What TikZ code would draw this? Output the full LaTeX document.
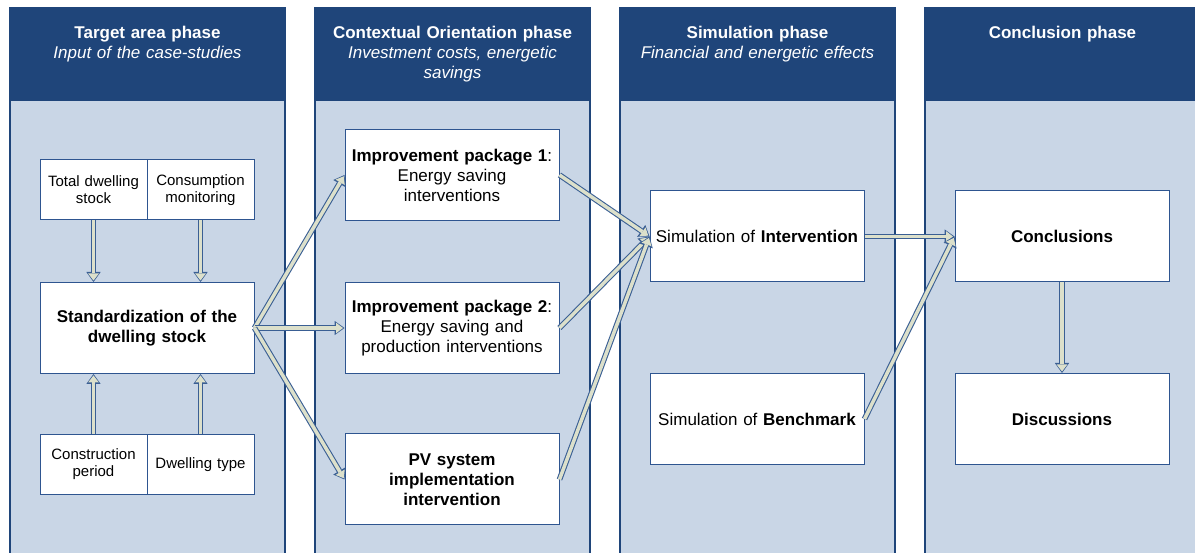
\documentclass[tikz,border=0pt]{standalone}
\usepackage{fontspec}
\setmainfont{Liberation Sans}
\usetikzlibrary{arrows.meta}

\definecolor{headblue}{HTML}{1F457A}
\definecolor{colfill}{HTML}{C9D6E6}
\definecolor{edgeblue}{HTML}{2E5590}
\definecolor{arrfill}{HTML}{DCE0CB}
\definecolor{arrline}{HTML}{3A5F94}

\newcommand{\bodyfont}{\fontsize{10.2}{12}\selectfont}
\newcommand{\smallfont}{\fontsize{9}{10.2}\selectfont}

\tikzset{
  colbody/.style={fill=colfill, draw=headblue, line width=1.5pt},
  phasetitle/.style={text=white, align=center, anchor=north, inner sep=0pt,
    text width=200pt, font=\bodyfont},
  box/.style={draw=edgeblue, fill=white, line width=0.6pt, align=center,
    inner sep=2pt, font=\bodyfont},
  bigbox/.style={box, minimum width=128.4pt, minimum height=54.6pt, text width=124pt},
  smallbox/.style={box, minimum width=64.2pt, minimum height=36pt,
    text width=60pt, font=\smallfont},
  flow/.style={draw=arrfill, line width=2.1pt, shorten >=0.9pt,
    -{Triangle[length=4.2pt,width=6.4pt,line width=0pt]},
    preaction={draw=arrline, line width=3.4pt, shorten >=0pt,
      -{Triangle[length=6pt,width=8.6pt,line width=0pt]}}},
}

\begin{document}
\begin{tikzpicture}[x=0.6pt, y=-0.6pt]
  \useasboundingbox (0,0) rectangle (1195,553);
  % Phase columns
  \foreach \x in {9,314,619,924} {
    \draw[colbody] (\x+1.2,100) rectangle (\x+275.8,580);
    \fill[headblue] (\x,7) rectangle (\x+277,100);
  }
  \node[phasetitle] (ph1) at (147.5,26) {\textbf{Target area phase}\\\textit{Input of the case-studies}};
  \node[phasetitle] (ph2) at (452.5,26) {\textbf{Contextual Orientation phase}\\\textit{Investment costs, energetic}\\\textit{savings}};
  \node[phasetitle] (ph3) at (757.5,26) {\textbf{Simulation phase}\\\textit{Financial and energetic effects}};
  \node[phasetitle] (ph4) at (1062.5,26) {\textbf{Conclusion phase}};

  % Target area phase
  \node[smallbox] (tds) at (93.5,190) {Total dwelling stock};
  \node[smallbox] (cmon) at (200.5,190) {Consumption monitoring};
  \node[bigbox] (std) at (147,328) {\textbf{Standardization of the}\\\textbf{dwelling stock}};
  \node[smallbox] (cper) at (93.5,464.5) {Construction period};
  \node[smallbox] (dtype) at (200.5,464.5) {Dwelling type};

  % Contextual orientation phase
  \node[bigbox] (pkg1) at (452,175) {\textbf{Improvement package 1}:\\Energy saving\\interventions};
  \node[bigbox] (pkg2) at (452,328) {\textbf{Improvement package 2}:\\Energy saving and\\production interventions};
  \node[bigbox] (pvsys) at (452,479.5) {\textbf{PV system}\\\textbf{implementation}\\\textbf{intervention}};

  % Simulation phase
  \node[bigbox] (simint) at (757,236.5) {Simulation of \textbf{Intervention}};
  \node[bigbox] (simbench) at (757,419) {Simulation of \textbf{Benchmark}};

  % Conclusion phase
  \node[bigbox] (concl) at (1062,236.5) {\textbf{Conclusions}};
  \node[bigbox] (discus) at (1062,419) {\textbf{Discussions}};

  % Flows
  \draw[flow] (tds.south) -- (tds.south |- std.north);
  \draw[flow] (cmon.south) -- (cmon.south |- std.north);
  \draw[flow] (cper.north) -- (cper.north |- std.south);
  \draw[flow] (dtype.north) -- (dtype.north |- std.south);
  \draw[flow] (std.east) -- (pkg1.west);
  \draw[flow] (std.east) -- (pkg2.west);
  \draw[flow] (std.east) -- (pvsys.west);
  \draw[flow] (pkg1.east) -- (simint.west);
  \draw[flow] (pkg2.east) -- (simint.west);
  \draw[flow] (pvsys.east) -- (simint.west);
  \draw[flow] (simint.east) -- (concl.west);
  \draw[flow] (simbench.east) -- (concl.west);
  \draw[flow] (concl.south) -- (discus.north);
\end{tikzpicture}
\end{document}
